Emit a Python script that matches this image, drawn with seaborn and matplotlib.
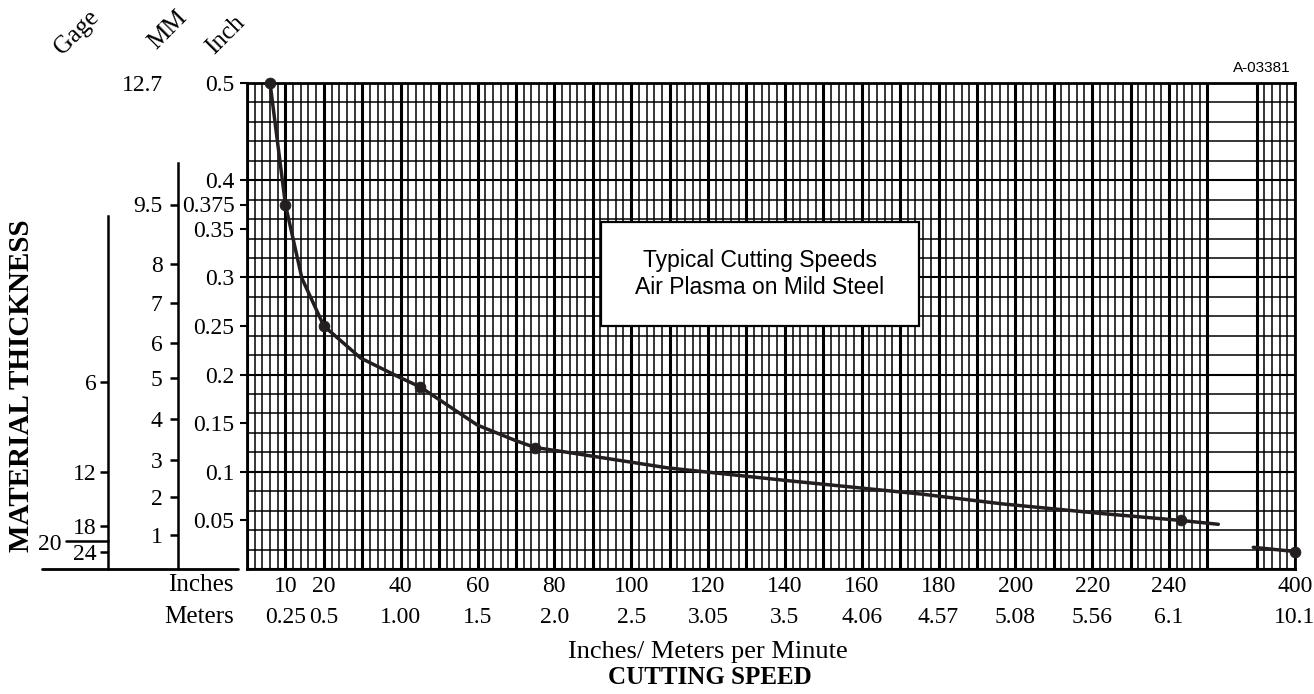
import numpy as np
import pandas as pd
import seaborn as sns
import matplotlib.pyplot as plt
from matplotlib.patches import Rectangle
import matplotlib.transforms as mtrans

# cutting speed curve (inches/min vs inches)
curve_speed = [6, 10, 14.3, 20, 29.6, 39.8, 45, 60, 70, 75, 83.5, 109.6, 140.5, 175.7, 196.6, 222.7, 243, 281]
curve_thick = [0.5, 0.375, 0.299, 0.25, 0.217, 0.197, 0.1875, 0.148, 0.132, 0.125, 0.120, 0.104, 0.091, 0.077, 0.067, 0.057, 0.05, 0.046]
tail_speed = [380.6, 400]
tail_thick = [0.0223, 0.018]
point_speed = [6, 10, 20, 45, 75, 243, 400]
point_thick = [0.5, 0.375, 0.25, 0.1875, 0.125, 0.05, 0.018]

# thickness scales
inch_ticks = [0.05, 0.1, 0.15, 0.2, 0.25, 0.3, 0.35, 0.375, 0.4, 0.5]
inch_labels = ["0.05", "0.1", "0.15", "0.2", "0.25", "0.3", "0.35", "0.375", "0.4", "0.5"]
mm_pos = [0.035, 0.074, 0.112, 0.154, 0.196, 0.233, 0.274, 0.314, 0.375, 0.5]
mm_labels = ["1", "2", "3", "4", "5", "6", "7", "8", "9.5", "12.7"]
gage_pos = [0.192, 0.100, 0.044, 0.0175]
gage_labels = ["6", "12", "18", "24"]
gage20_pos = 0.0287

# speed scale
speed_in = [10, 20, 40, 60, 80, 100, 120, 140, 160, 180, 200, 220, 240, 400]
speed_m = ["0.25", "0.5", "1.00", "1.5", "2.0", "2.5", "3.05", "3.5", "4.06", "4.57",
           "5.08", "5.56", "6.1", "10.1"]

# axis break between 250 and 390 in/min
BRK_LO, BRK_HI, SQ = 250.0, 390.0, 0.0914


def fwd(x):
    x = np.asarray(x, dtype=float)
    mid = BRK_LO + (x - BRK_LO) * SQ
    hi = BRK_LO + (BRK_HI - BRK_LO) * SQ + (x - BRK_HI)
    return np.where(x <= BRK_LO, x, np.where(x < BRK_HI, mid, hi))


def inv(u):
    u = np.asarray(u, dtype=float)
    top = BRK_LO + (BRK_HI - BRK_LO) * SQ
    mid = BRK_LO + (u - BRK_LO) / SQ
    hi = BRK_HI + (u - top)
    return np.where(u <= BRK_LO, u, np.where(u < top, mid, hi))


sns.set_theme(style="white")
plt.rcParams["font.family"] = ["Liberation Serif", "DejaVu Serif"]
for k in ["text.color", "axes.labelcolor", "xtick.color", "ytick.color", "axes.edgecolor"]:
    plt.rcParams[k] = "black"

W, H = 1314, 694
fig = plt.figure(figsize=(W / 100, H / 100), dpi=100)
bot = (H - 569) / H
hgt = (569 - 83) / H
ax = fig.add_axes([247 / W, bot, (1295 - 247) / W, hgt])

ink = "#231f20"
# grid
minor_x = list(range(0, 251, 2)) + list(range(390, 401, 2))
major_x = list(range(0, 251, 10)) + [390, 400]
ax.vlines(minor_x, 0, 0.5, color="black", lw=1.1, zorder=1)
ax.vlines(major_x, 0, 0.5, color="black", lw=2.2, zorder=1)
ax.hlines(np.arange(0, 0.501, 0.02), 0, 400, color="black", lw=1.1, zorder=1)
ax.hlines(np.arange(0, 0.501, 0.1), 0, 400, color="black", lw=1.5, zorder=1)

sns.lineplot(x=curve_speed, y=curve_thick, ax=ax, sort=False, estimator=None,
             color=ink, lw=2.5, zorder=4)
sns.lineplot(x=tail_speed, y=tail_thick, ax=ax, sort=False, estimator=None,
             color=ink, lw=2.5, zorder=4)
sns.scatterplot(x=point_speed, y=point_thick, ax=ax, s=60, color=ink,
                edgecolor=ink, zorder=5, clip_on=False)

ax.set_xscale("function", functions=(fwd, inv))
ax.set_xlim(0, 400)
ax.set_ylim(0, 0.5)

ax.set_xticks(speed_in)
ax.set_xticklabels([f"{a}\n{b}" for a, b in zip(speed_in, speed_m)], fontsize=17)
for t in ax.get_xticklabels():
    t.set_linespacing(1.6)
ax.tick_params(axis="x", length=0, pad=5)
ax.set_yticks(inch_ticks)
ax.set_yticklabels(inch_labels, fontsize=17)
ax.tick_params(axis="y", length=5, width=1.5, pad=4, left=True)
for s in ax.spines.values():
    s.set_linewidth(2.0)
ax.set_xlabel("")
ax.set_ylabel("")

# title box
ax.add_patch(Rectangle((0.338, 0.5), 0.303, 0.214, transform=ax.transAxes,
                       facecolor="white", edgecolor="black", lw=1.6, zorder=6))
ax.text(0.4895, 0.607, "Typical Cutting Speeds\nAir Plasma on Mild Steel",
        transform=ax.transAxes, ha="center", va="center", fontsize=16.5,
        family=["Liberation Sans", "DejaVu Sans"], linespacing=1.2, zorder=7)


def side_axis(xpx, top_val):
    a = fig.add_axes([xpx / W, bot, 0.0005, hgt])
    a.patch.set_visible(False)
    for s in ["top", "right", "bottom"]:
        a.spines[s].set_visible(False)
    a.spines["left"].set_bounds(0, top_val)
    a.spines["left"].set_linewidth(1.8)
    a.set_xticks([])
    a.set_ylim(0, 0.5)
    a.tick_params(axis="y", left=True, length=6, width=1.8, labelsize=17)
    return a


ax_mm = side_axis(178, 0.418)
ax_mm.set_yticks(mm_pos)
ax_mm.set_yticklabels(mm_labels)
ax_mm.tick_params(axis="y", pad=5)
ax_mm.yaxis.get_major_ticks()[-1].tick1line.set_visible(False)

ax_g = side_axis(108, 0.363)
ax_g.set_yticks(gage_pos)
ax_g.set_yticklabels(gage_labels)
ax_g.tick_params(axis="y", pad=2)
ax_g.yaxis.get_major_ticks()[0].label1.set_x(-0.0)
tr = mtrans.blended_transform_factory(fig.transFigure, ax_g.transData)
ax_g.plot([66 / W, 108 / W], [gage20_pos, gage20_pos], transform=tr, color="black",
          lw=1.8, clip_on=False)
fig.text(50 / W, 1 - 544 / H, "20", ha="center", va="center", fontsize=17)

# baseline under the side scales
fig.add_artist(plt.Line2D([42 / W, 238 / W], [bot, bot], color="black", lw=2.0))

# scale headers
fig.text(77 / W, 1 - 33 / H, "Gage", rotation=45, ha="center", va="center", fontsize=18)
fig.text(168 / W, 1 - 30 / H, "MM", rotation=45, ha="center", va="center", fontsize=18)
fig.text(226 / W, 1 - 35 / H, "Inch", rotation=45, ha="center", va="center", fontsize=18)
fig.text(22 / W, 1 - 386 / H, "MATERIAL THICKNESS", rotation=90, ha="center",
         va="center", fontsize=21, fontweight="bold")

fig.text(234 / W, 1 - 585 / H, "Inches", ha="right", va="center", fontsize=18)
fig.text(234 / W, 1 - 617 / H, "Meters", ha="right", va="center", fontsize=18)
fig.text(708 / W, 1 - 652 / H, "Inches/ Meters per Minute", ha="center", va="center",
         fontsize=19)
fig.text(710 / W, 1 - 678 / H, "CUTTING SPEED", ha="center", va="center",
         fontsize=18, fontweight="bold")
fig.text(1291 / W, 1 - 68 / H, "A-03381", ha="right", va="center", fontsize=11,
         family=["Liberation Sans", "DejaVu Sans"])

fig.savefig("out.png", dpi=100)
